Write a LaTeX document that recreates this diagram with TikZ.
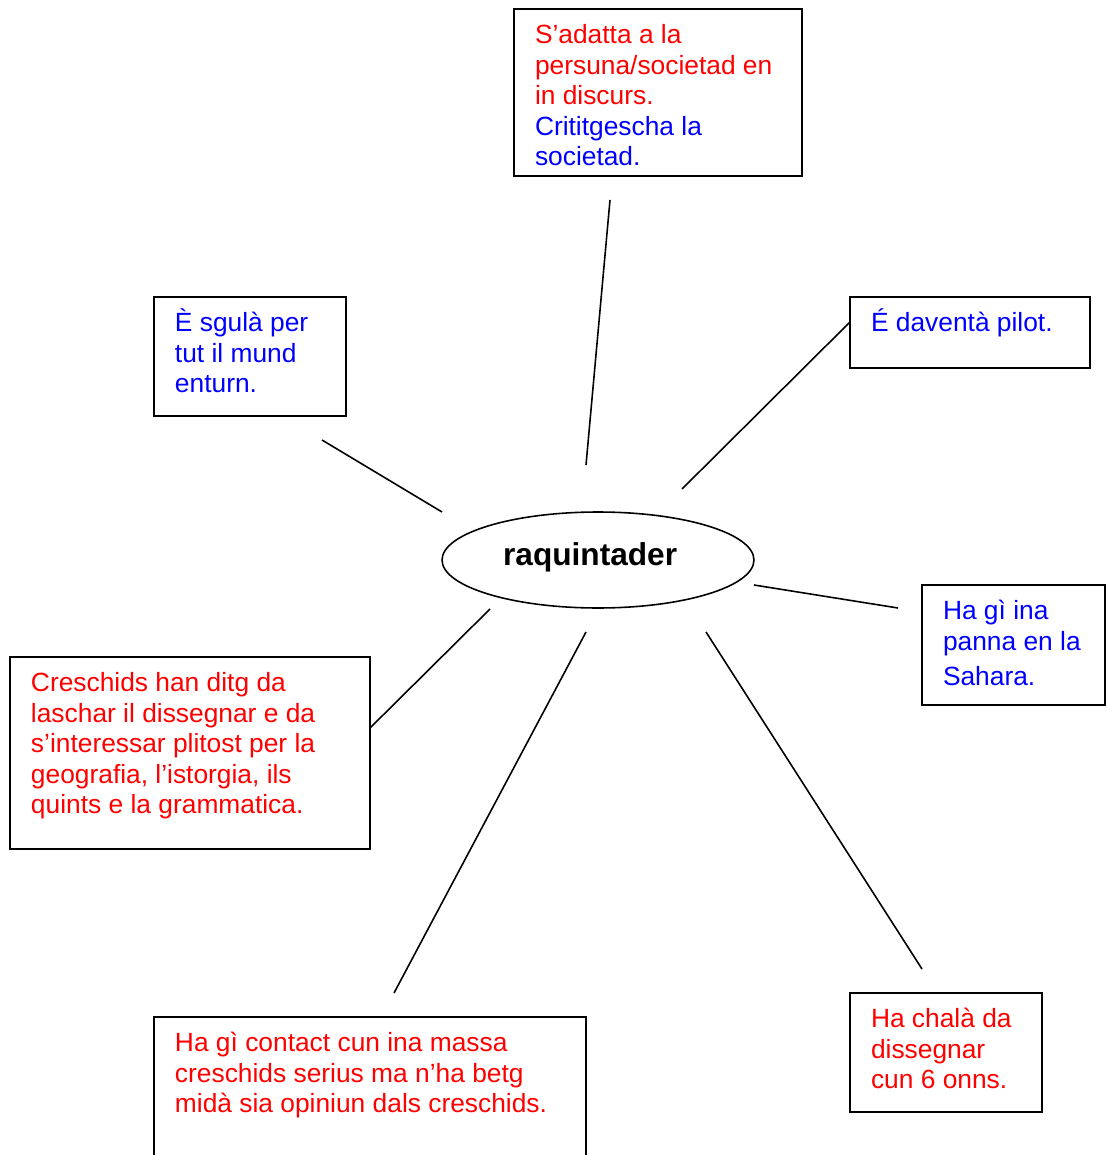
\documentclass[tikz,border=0pt]{standalone}
\usepackage{fontspec}
\setmainfont{Liberation Sans}
\usetikzlibrary{shapes.geometric}

\tikzset{
    box/.style={draw, line width=1.1pt, anchor=north west, inner xsep=0.42cm, inner ysep=0pt, outer sep=0pt,
        font=\fontsize{15}{17.43}\selectfont},
    spoke/.style={line width=0.9pt},
}
\newcommand{\boxtxt}[3]{\parbox[t][#2][t]{#1}{\raggedright\rule{0pt}{0.69cm}#3}}

\begin{document}
\begin{tikzpicture}[x=0.02cm, y=-0.02cm]
    \clip (0,0) rectangle (1106,1155);
    \node[draw, ellipse, line width=0.9pt, minimum width=6.24cm, minimum height=1.92cm,
        font=\bfseries\fontsize{18}{21}\selectfont, text height=8pt, text depth=2.2pt] (raq) at (598,560) {raquintader\kern9pt};
    \node[box, text=red] (adatta) at (514,9) {\boxtxt{4.92cm}{3.34cm}{S’adatta a la\\ persuna/societad en\\ in discurs.\\ \color{blue}Crititgescha la\\ societad.}};
    \node[box, text=blue] (sgula) at (154,297) {\boxtxt{3.00cm}{2.38cm}{È sgulà per\\ tut il mund\\ enturn.}};
    \node[box, text=blue] (pilot) at (850,297) {\boxtxt{3.96cm}{1.42cm}{É daventà pilot.}};
    \node[box, text=blue] (sahara) at (922,585) {\boxtxt{2.82cm}{2.40cm}{Ha gì ina\\ panna en la\\[2.8pt] Sahara.}};
    \node[box, text=red] (creschids) at (10,657) {\boxtxt{6.36cm}{3.84cm}{Creschids han ditg da\\ laschar il dissegnar e da\\ s’interessar plitost per la\\ geografia, l’istorgia, ils\\ quints e la grammatica.}};
    \node[box, text=red] (contact) at (154,1017) {\boxtxt{7.80cm}{3.20cm}{Ha gì contact cun ina massa\\ creschids serius ma n’ha betg\\ midà sia opiniun dals creschids.}};
    \node[box, text=red] (chala) at (850,993) {\boxtxt{3.00cm}{2.38cm}{Ha chalà da\\ dissegnar\\ cun 6 onns.}};
    % spokes
    \coordinate (up1) at (586,465);
    \coordinate (up2) at (610,200);
    \coordinate (ul1) at (442,512);
    \coordinate (ul2) at (322,440);
    \coordinate (ur1) at (682,489);
    \coordinate (ur2) at (850,322);
    \coordinate (r1) at (754,585);
    \coordinate (r2) at (898,608);
    \coordinate (l1) at (490,609);
    \coordinate (l2) at (370,728);
    \coordinate (dl1) at (586,632);
    \coordinate (dl2) at (394,993);
    \coordinate (dr1) at (706,632);
    \coordinate (dr2) at (922,969);
    \draw[spoke] (up1) -- (up2);
    \draw[spoke] (ul1) -- (ul2);
    \draw[spoke] (ur1) -- (ur2);
    \draw[spoke] (r1) -- (r2);
    \draw[spoke] (l1) -- (l2);
    \draw[spoke] (dl1) -- (dl2);
    \draw[spoke] (dr1) -- (dr2);
\end{tikzpicture}
\end{document}
